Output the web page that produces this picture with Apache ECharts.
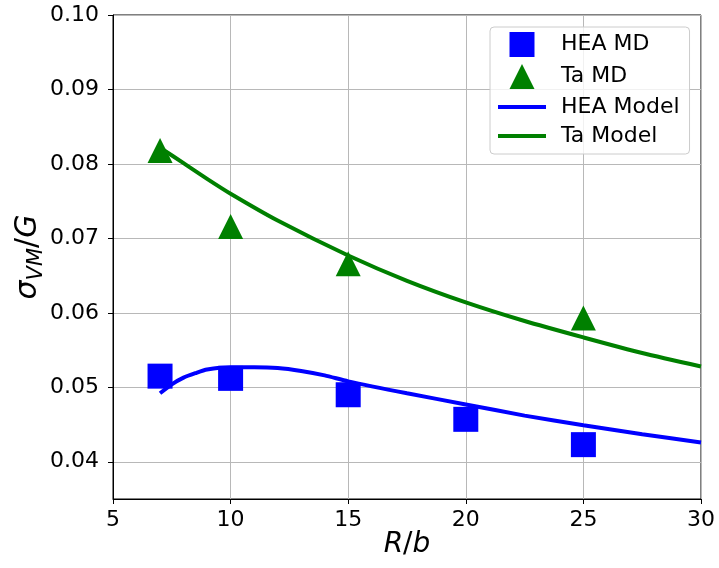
<!DOCTYPE html>
<html>
<head>
<meta charset="utf-8">
<script src="https://cdn.jsdelivr.net/npm/echarts@6/dist/echarts.min.js"></script>
<style>
  html, body { margin: 0; padding: 0; background: #ffffff; }
  #chart { width: 719px; height: 568px; }
</style>
</head>
<body>
<div id="chart"></div>
<script>
// Molecular dynamics results (R/b vs. normalised von Mises stress)
const heaMdR = [7, 10, 15, 20, 25];
const heaMd = [0.0515, 0.0512, 0.0490, 0.0457, 0.0423];
const taMdR = [7, 10, 15, 25];
const taMd = [0.0818, 0.0716, 0.0666, 0.0593];

// Model curves, sampled along R/b
const heaModelR = [7, 7.5, 8, 8.5, 9, 10, 11, 12, 13, 14, 15, 17.5, 20, 22.5, 25, 27.5, 30];
const heaModel = [0.0492, 0.0504, 0.0513, 0.0519, 0.0524, 0.0527, 0.0527, 0.0526, 0.0522, 0.0516, 0.0508, 0.0492, 0.0477, 0.0462, 0.0449, 0.0437, 0.0426];
const taModelR = [7, 8, 9, 10, 12, 15, 17.5, 20, 22.5, 25, 27.5, 30];
const taModel = [0.0822, 0.0801, 0.0780, 0.0760, 0.0724, 0.0677, 0.0643, 0.0614, 0.0589, 0.0567, 0.0546, 0.0528];

// Axis ticks
const xTicks = [5, 10, 15, 20, 25, 30];
const yTicks = [0.04, 0.05, 0.06, 0.07, 0.08, 0.09, 0.10];

const zip = (xs, ys) => xs.map((x, i) => [x, ys[i]]);

const FONT = 'DejaVu Sans';
const BLUE = '#0000ff';
const GREEN = '#008000';

const chart = echarts.init(document.getElementById('chart'), null, { renderer: 'canvas' });

chart.setOption({
  backgroundColor: '#ffffff',
  animation: false,
  textStyle: { fontFamily: FONT },
  grid: {
    left: 113, top: 15, width: 588, height: 484,
    outerBoundsMode: 'none', containLabel: false,
    show: true, borderColor: '#000000', borderWidth: 1, backgroundColor: 'transparent'
  },
  legend: {
    left: 490, top: 27,
    orient: 'vertical',
    itemWidth: 48, itemHeight: 25, itemGap: 7,
    padding: [5, 10, 7, 8],
    backgroundColor: 'rgba(255,255,255,0.8)',
    borderColor: '#cccccc', borderWidth: 1, borderRadius: 4,
    symbolKeepAspect: true,
    textStyle: { fontFamily: FONT, fontSize: 22, color: '#000000', padding: [0, 0, 0, 10] },
    data: [
      { name: 'HEA MD', icon: 'path://M0,0H10V10H0Z' },
      { name: 'Ta MD', icon: 'path://M5,0L10,10L0,10Z' },
      { name: 'HEA Model', icon: 'path://M0,0H48V4H0Z' },
      { name: 'Ta Model', icon: 'path://M0,0H48V4H0Z' }
    ]
  },
  xAxis: {
    type: 'value', min: 5, max: 30, interval: 5,
    name: '{i|R}{n|/}{i|b}', nameLocation: 'middle', nameGap: 32, nameMoveOverlap: false,
    nameTextStyle: {
      rich: {
        i: { fontFamily: FONT, fontSize: 28, fontStyle: 'italic', color: '#000' },
        n: { fontFamily: FONT, fontSize: 28, color: '#000' }
      }
    },
    axisLine: { show: true, lineStyle: { color: '#000000', width: 1 } },
    axisTick: { show: true, inside: false, length: 5, lineStyle: { color: '#000000', width: 1 } },
    axisLabel: { show: true, margin: 10, fontFamily: FONT, fontSize: 22, color: '#000000',
      customValues: xTicks },
    splitLine: { show: true, lineStyle: { color: '#b8b8b8', width: 1 } }
  },
  yAxis: {
    type: 'value', min: 0.035, max: 0.10, splitNumber: 7,
    name: '{s|σ}{sub|VM}{n|/}{s|G}', nameLocation: 'middle', nameGap: 66, nameRotate: 90,
    nameMoveOverlap: false,
    nameTextStyle: {
      rich: {
        s: { fontFamily: FONT, fontSize: 30, fontStyle: 'italic', color: '#000', lineHeight: 38, verticalAlign: 'middle' },
        n: { fontFamily: FONT, fontSize: 30, color: '#000', lineHeight: 38, verticalAlign: 'middle' },
        sub: { fontFamily: FONT, fontSize: 21, fontStyle: 'italic', color: '#000', lineHeight: 21, verticalAlign: 'bottom' }
      }
    },
    axisLine: { show: true, lineStyle: { color: '#000000', width: 1 } },
    axisTick: { show: true, inside: false, length: 5, lineStyle: { color: '#000000', width: 1 },
      customValues: yTicks },
    axisLabel: { show: true, margin: 14, fontFamily: FONT, fontSize: 22, color: '#000000',
      customValues: yTicks, formatter: v => v.toFixed(2) },
    splitLine: { show: true, lineStyle: { color: '#b8b8b8', width: 1 } }
  },
  series: [
    {
      name: 'HEA MD', type: 'scatter', data: zip(heaMdR, heaMd),
      symbol: 'rect', symbolSize: 25, itemStyle: { color: BLUE, opacity: 1 }, z: 2
    },
    {
      name: 'Ta MD', type: 'scatter', data: zip(taMdR, taMd),
      symbol: 'triangle', symbolSize: 25, itemStyle: { color: GREEN, opacity: 1 }, z: 2
    },
    {
      name: 'HEA Model', type: 'line', data: zip(heaModelR, heaModel),
      smooth: 0.25, showSymbol: false, symbol: 'none',
      lineStyle: { color: BLUE, width: 4 }, itemStyle: { color: BLUE }, z: 3
    },
    {
      name: 'Ta Model', type: 'line', data: zip(taModelR, taModel),
      smooth: 0.25, showSymbol: false, symbol: 'none',
      lineStyle: { color: GREEN, width: 4 }, itemStyle: { color: GREEN }, z: 3
    }
  ]
});
</script>
</body>
</html>
